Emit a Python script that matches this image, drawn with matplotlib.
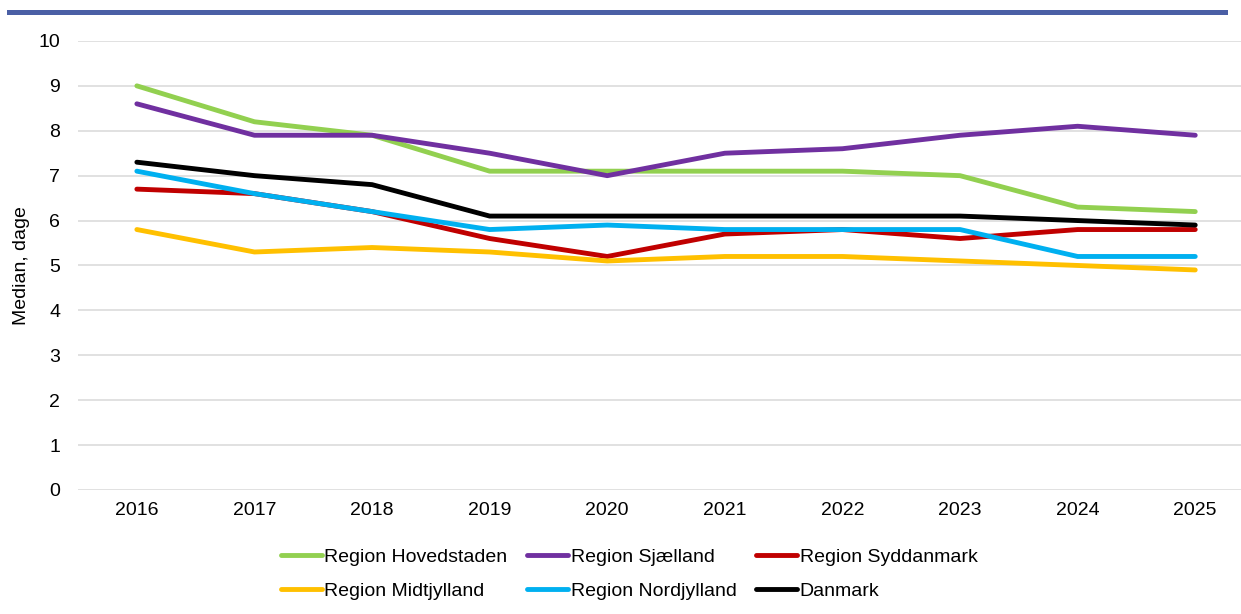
import matplotlib
matplotlib.use("Agg")
import matplotlib.pyplot as plt
from matplotlib.patches import Rectangle

plt.rcParams['font.family'] = ['Liberation Sans', 'DejaVu Sans']

years = [2016, 2017, 2018, 2019, 2020, 2021, 2022, 2023, 2024, 2025]

hovedstaden = [9.0, 8.2, 7.9, 7.1, 7.1, 7.1, 7.1, 7.0, 6.3, 6.2]
sjaelland = [8.6, 7.9, 7.9, 7.5, 7.0, 7.5, 7.6, 7.9, 8.1, 7.9]
syddanmark = [6.7, 6.6, 6.2, 5.6, 5.2, 5.7, 5.8, 5.6, 5.8, 5.8]
midtjylland = [5.8, 5.3, 5.4, 5.3, 5.1, 5.2, 5.2, 5.1, 5.0, 4.9]
nordjylland = [7.1, 6.6, 6.2, 5.8, 5.9, 5.8, 5.8, 5.8, 5.2, 5.2]
danmark = [7.3, 7.0, 6.8, 6.1, 6.1, 6.1, 6.1, 6.1, 6.0, 5.9]

series = [
    ("Region Hovedstaden", hovedstaden, "#92d050"),
    ("Region Sjælland", sjaelland, "#7030a0"),
    ("Region Syddanmark", syddanmark, "#c00000"),
    ("Region Midtjylland", midtjylland, "#ffc000"),
    ("Region Nordjylland", nordjylland, "#00b0f0"),
    ("Danmark", danmark, "#000000"),
]

fig = plt.figure(figsize=(12.41, 6.14), dpi=100)
ax = fig.add_axes([0.0629, 0.2020, 0.9476, 0.7313])

x = list(range(len(years)))
for label, vals, color in series:
    ax.plot(x, vals, color=color, lw=3.5, label=label, solid_capstyle='round')

ax.set_xlim(-0.5, len(years) - 0.5)
ax.set_ylim(0, 10)
ax.set_yticks(range(0, 11))
ax.set_xticks(x)
ax.set_xticklabels([str(y) for y in years])
ax.tick_params(axis='both', length=0, labelsize=14)
ax.tick_params(axis='y', pad=13)
ax.tick_params(axis='x', pad=9)
ax.grid(axis='y', color='#d9d9d9', lw=1.1)
ax.set_axisbelow(True)
for s in ax.spines.values():
    s.set_visible(False)
ax.set_ylabel("Median, dage", fontsize=14, labelpad=6)

# legend filled row by row like the original
handles, labels = ax.get_legend_handles_labels()
order = [0, 3, 1, 4, 2, 5]
ax.legend([handles[i] for i in order], [labels[i] for i in order],
          loc='upper center', bbox_to_anchor=(0.507, 0.136),
          bbox_transform=fig.transFigure, ncol=3, frameon=False,
          fontsize=14, handlelength=2.1, handletextpad=0.15,
          columnspacing=1.0, labelspacing=0.85)

# top blue bar
fig.add_artist(Rectangle((7 / 1241, 1 - 14.5 / 614), 1221 / 1241, 4 / 614,
                         transform=fig.transFigure, color='#4a5fa5', lw=0))

fig.savefig("out.png", dpi=100)
